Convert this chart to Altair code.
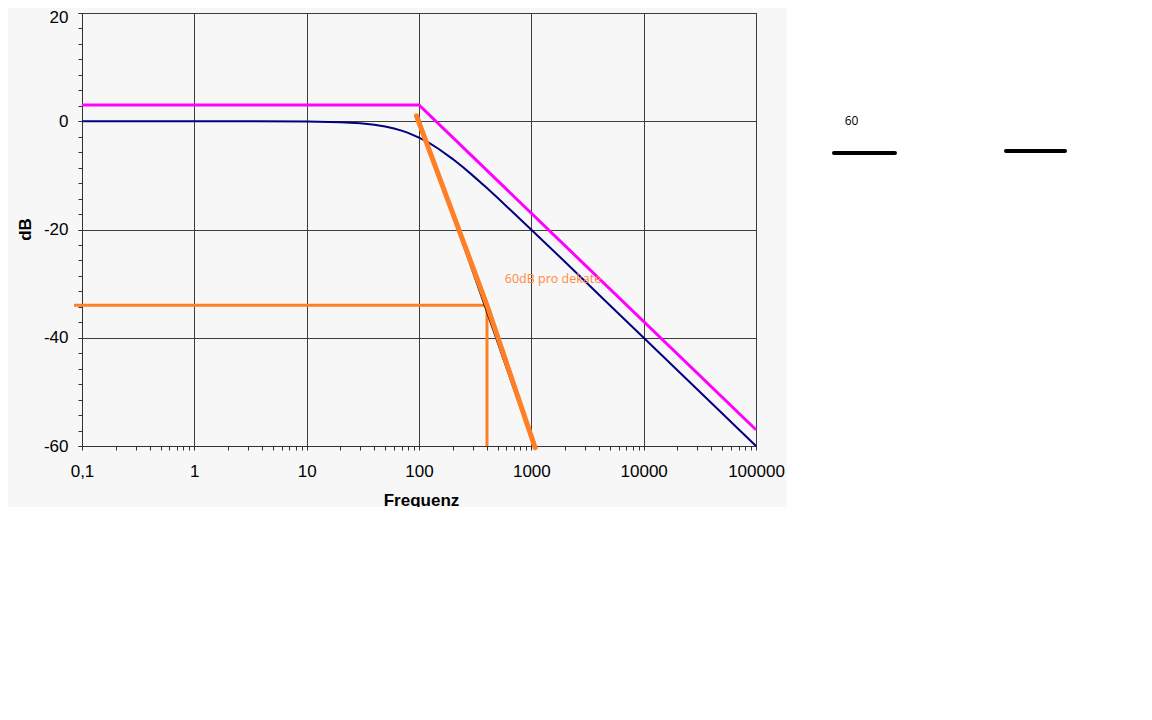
import altair as alt
import pandas as pd

# ---------------- data ----------------
x_ticks = [0.1, 1, 10, 100, 1000, 10000, 100000]
x_labels = ["0,1", "1", "10", "100", "1000", "10000", "100000"]
y_ticks = [-60, -40, -20, 0, 20]
y_labels = ["-60", "-40", "-20", "0", "20"]
x_minor = [m * d for d in [0.1, 1, 10, 100, 1000, 10000] for m in range(2, 10)]
y_minor = [round(20 - i * 20 / 7, 4) for i in range(29)]

# asymptote (magenta)
mag_f = [0.1, 100, 100000]
mag_db = [3, 3, -57]

# low-pass magnitude (navy)
navy_f = [0.1, 1, 10, 20, 30, 40, 50, 60, 70, 80, 100, 120, 150, 200, 250, 300,
          400, 500, 700, 1000, 2000, 5000, 10000, 100000]
navy_db = [0, 0, -0.04, -0.17, -0.37, -0.64, -0.97, -1.34, -1.73, -2.15, -3.01,
           -3.87, -5.12, -6.99, -8.6, -10.0, -12.3, -14.15, -17.0, -20.04, -26.0,
           -33.98, -40.0, -60.0]

# hand-drawn 60 dB/decade lines
black_f = [98, 1050]
black_db = [1, -60]
orange_f = [95, 403, 1080]
orange_db = [1, -34, -60.3]

# orange level / drop line
level_f = [0.085, 403, 403]
level_db = [-34, -34, -60]

# annotation
note_f = [580]
note_db = [-29.1]
note_text = ["60dB pro dekate"]

# stray decorations on the right
deco_text_f = [708000]
deco_text_db = [0]
deco_text = ["60"]
dash1_f = [494800, 1727000]
dash1_db = [-5.87, -5.87]
dash2_f = [16810000, 56330000]
dash2_db = [-5.5, -5.5]

# ---------------- chart ----------------
X = alt.Scale(type="log", domain=[0.1, 100000], nice=False)
Y = alt.Scale(domain=[-60, 20], nice=False, zero=False)


def df_of(f, db):
    return pd.DataFrame({"f": f, "db": db, "i": list(range(len(f)))})


def line(f, db, color, width, cap="butt", xaxis=None, yaxis=None):
    return alt.Chart(df_of(f, db)).mark_line(
        color=color, strokeWidth=width, strokeCap=cap, clip=False
    ).encode(
        x=alt.X("f:Q", scale=X, axis=xaxis),
        y=alt.Y("db:Q", scale=Y, axis=yaxis),
        order="i:Q",
    )


def expr_map(values, labels):
    return "".join(
        f"datum.value == {v} ? '{l}' : " for v, l in zip(values, labels)
    ) + "datum.label"


main_x_axis = alt.Axis(
    values=x_ticks, labelExpr=expr_map(x_ticks, x_labels), title="Frequenz", grid=True,
    gridColor="#3c3c3c", gridWidth=1, domainColor="#333333", tickColor="#333333",
    tickSize=4, labelFont="Liberation Sans", labelFontSize=17, labelColor="black",
    labelPadding=13, labelFlush=False, labelOverlap=False, labelBound=False,
    titleFont="Liberation Sans", titleFontSize=17, titleFontWeight="bold",
    titleColor="black", titleX=339, titleY=59, titleAlign="center",
    titleBaseline="alphabetic", orient="bottom",
)
main_y_axis = alt.Axis(
    values=y_ticks, labelExpr=expr_map(y_ticks, y_labels), title="dB", grid=True,
    gridColor="#3c3c3c", gridWidth=1,
    domainColor="#333333", tickColor="#333333", tickSize=4,
    labelFont="Liberation Sans", labelFontSize=17, labelColor="black",
    labelPadding=10, labelFlush=False, labelOverlap=False, labelBound=False,
    labelOffset={"condition": {"test": "datum.value == 20", "value": 4}, "value": 0},
    titleFont="Liberation Sans", titleFontSize=17, titleFontWeight="bold",
    titleColor="black", titleX=-57, titleY=216, titleAlign="center",
    titleBaseline="middle", orient="left",
)
minor_x_axis = alt.Axis(
    values=x_minor, labels=False, ticks=True, tickSize=4, tickColor="#333333",
    domain=False, grid=False, title=None, orient="bottom",
)
minor_y_axis = alt.Axis(
    values=y_minor, labels=False, ticks=True, tickSize=4, tickColor="#333333",
    domain=False, grid=False, title=None, orient="left",
)

one = pd.DataFrame({"k": [0]})
white_right = alt.Chart(one).mark_rect(color="white", clip=False).encode(
    x=alt.value(705), x2=alt.value(1200), y=alt.value(-20), y2=alt.value(600))
white_bottom = alt.Chart(one).mark_rect(color="white", clip=False).encode(
    x=alt.value(-100), x2=alt.value(705), y=alt.value(494), y2=alt.value(600))

navy = line(navy_f, navy_db, "#000080", 2, xaxis=main_x_axis, yaxis=main_y_axis)
magenta = line(mag_f, mag_db, "#FF00FF", 3, xaxis=minor_x_axis, yaxis=minor_y_axis)
black = line(black_f, black_db, "#000000", 1.5)
orange = line(orange_f, orange_db, "#FF7F27", 5, cap="round")
level = line(level_f, level_db, "#FF7F27", 3)
dash1 = line(dash1_f, dash1_db, "#000000", 4, cap="round")
dash2 = line(dash2_f, dash2_db, "#000000", 4, cap="round")

note = alt.Chart(pd.DataFrame({"f": note_f, "db": note_db, "t": note_text})).mark_text(
    align="left", baseline="middle", font="Open Sans", fontSize=12.5,
    color="#FF8A3D", clip=False,
).encode(x=alt.X("f:Q", scale=X, axis=None), y=alt.Y("db:Q", scale=Y, axis=None), text="t:N")

deco = alt.Chart(pd.DataFrame({"f": deco_text_f, "db": deco_text_db, "t": deco_text})).mark_text(
    align="center", baseline="middle", font="Open Sans", fontSize=12,
    color="black", clip=False,
).encode(x=alt.X("f:Q", scale=X, axis=None), y=alt.Y("db:Q", scale=Y, axis=None), text="t:N")

chart = alt.layer(
    white_right, white_bottom, navy, magenta, level, black, orange, note,
    deco, dash1, dash2,
).resolve_axis(x="independent", y="independent").properties(
    width=674, height=433,
    autosize=alt.AutoSizeParams(type="none"),
    padding={"left": 74, "top": 5, "right": 340, "bottom": 66},
    background="#f7f7f7",
).configure_view(stroke="#000000", strokeWidth=1)

chart.save("out.html", embed_options={"renderer": "svg", "actions": False})
